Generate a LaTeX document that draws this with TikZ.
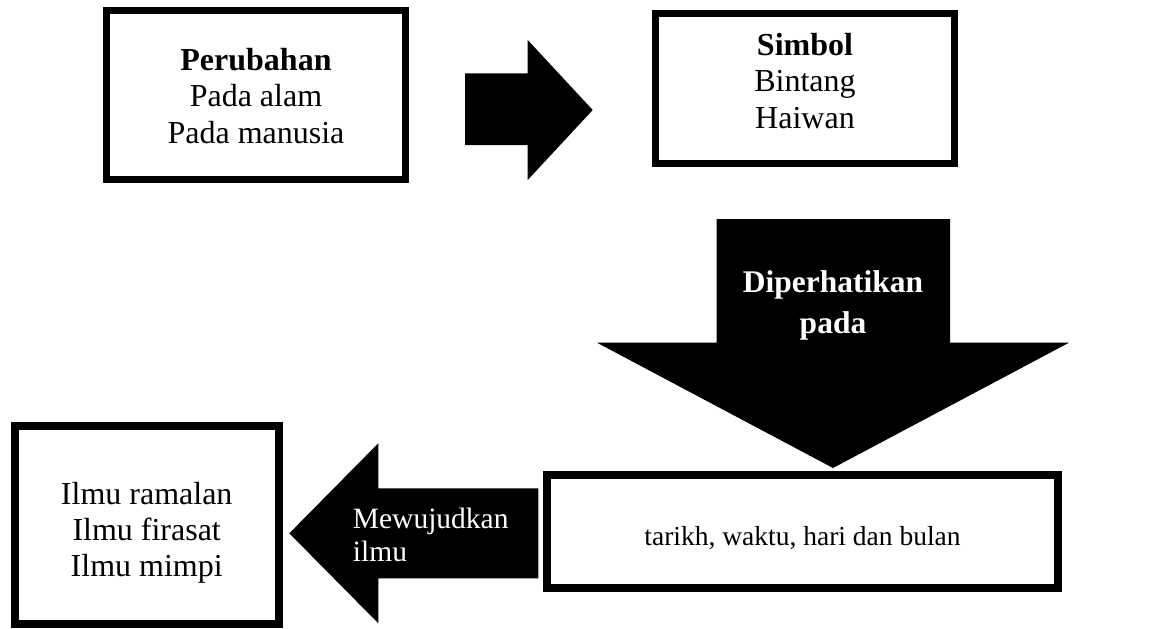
\documentclass[tikz,border=0pt]{standalone}
\usepackage{fontspec}
\setmainfont{Liberation Serif}
\begin{document}
\begin{tikzpicture}[x=1pt,y=-1pt,
  box/.style={draw=black, fill=white, rectangle, inner sep=0pt},
  boxtxt/.style={align=center, inner sep=0pt, font=\fontsize{32}{36.3}\selectfont},
  blockarrow/.style={fill=black, draw=none},
  arrowtxt/.style={text=white, inner sep=0pt}]
\useasboundingbox (0,0) rectangle (1149,629);
\fill[white] (0,0) rectangle (1149,629);

% boxes
\node[box, line width=7pt, minimum width=299pt, minimum height=169pt] (b1) at (256,95) {};
\node[box, line width=7pt, minimum width=299pt, minimum height=150pt] (b2) at (805,88.5) {};
\node[box, line width=8pt, minimum width=511pt, minimum height=113pt] (b3) at (802.5,531) {};
\node[box, line width=8pt, minimum width=264pt, minimum height=198pt] (b4) at (146.7,525) {};

% texts (base anchor = baseline of last line)
\node[boxtxt, anchor=base] (t1) at (256,143) {\textbf{Perubahan}\\Pada alam\\Pada manusia};
\node[boxtxt, anchor=base] (t2) at (805,128) {\textbf{Simbol}\\Bintang\\Haiwan};
\node[inner sep=0pt, anchor=base, font=\fontsize{27.5}{33}\selectfont] (t3) at (802.5,545) {tarikh, waktu, hari dan bulan};
\node[boxtxt, anchor=base] (t4) at (146.7,576.7) {Ilmu ramalan\\Ilmu firasat\\Ilmu mimpi};

% right block arrow
\fill[blockarrow] (465,73.3) -- (527.7,73.3) -- (527.7,40) -- (592.7,110)
  -- (527.7,180) -- (527.7,145) -- (465,145) -- cycle;

% down block arrow
\fill[blockarrow] (716.7,219) -- (950,219) -- (950,342.7) -- (1069,342.7)
  -- (833,468) -- (597,342.7) -- (716.7,342.7) -- cycle;
\node[arrowtxt, align=center, anchor=base, font=\fontsize{31.5}{41}\selectfont\bfseries] (ta) at (833,333) {Diperhatikan\\pada};

% left block arrow
\fill[blockarrow] (538.3,488.3) -- (378.3,488.3) -- (378.3,443.3) -- (289.3,533.3)
  -- (378.3,623.3) -- (378.3,578.3) -- (538.3,578.3) -- cycle;
\node[arrowtxt, align=left, anchor=base west, font=\fontsize{29.5}{33.7}\selectfont] (tb) at (352.7,561.7) {Mewujudkan\\ilmu};
\end{tikzpicture}
\end{document}
